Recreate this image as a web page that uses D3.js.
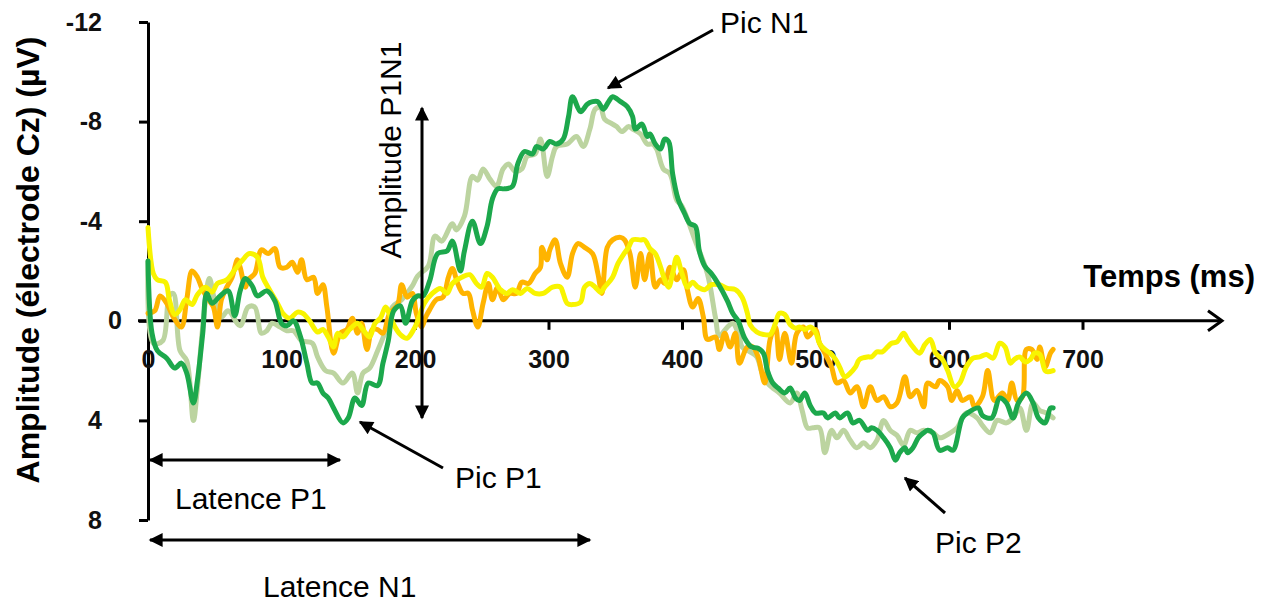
<!DOCTYPE html>
<html>
<head>
<meta charset="utf-8">
<script src="https://cdn.jsdelivr.net/npm/d3@7"></script>
<style>
  body { margin: 0; background: #fff; }
  text { font-family: "Liberation Sans", Arial, sans-serif; }
</style>
</head>
<body>
<div id="chart"></div>
<script>
// Data: [time (ms), amplitude (µV)]
var darkGreen = [[0,-2.4],[3,0.5],[7,1.2],[14,1.5],[20,1.9],[25,1.7],[29,2.1],[34,3.3],[37,2.4],[41,0.5],[44,-1.1],[48,-0.7],[54,-1.0],[60,-1.2],[65,-0.2],[69,-1.2],[73,-1.7],[78,-1.4],[82,-1.0],[89,-1.2],[95,-0.8],[100,0.1],[104,0.2],[109,0.0],[114,0.6],[119,1.7],[123,2.5],[127,2.5],[131,2.9],[135,3.1],[139,3.5],[146,4.1],[150,3.9],[155,3.1],[160,3.4],[165,2.5],[172,2.6],[176,1.7],[180,0.8],[184,-0.4],[189,-0.6],[193,0.1],[198,-0.8],[202,-1.0],[206,-1.0],[211,-1.6],[217,-2.7],[224,-2.8],[228,-3.2],[234,-2.0],[237,-2.8],[243,-4.0],[249,-3.1],[254,-3.8],[258,-4.9],[262,-5.3],[267,-5.3],[273,-5.4],[277,-6.3],[282,-6.8],[288,-6.7],[291,-7.0],[296,-6.9],[301,-7.2],[306,-7.1],[311,-7.3],[315,-8.2],[318,-9.0],[324,-8.4],[329,-8.7],[333,-8.8],[337,-8.8],[341,-8.5],[345,-8.8],[348,-9.0],[354,-8.8],[359,-8.6],[363,-8.2],[365,-7.7],[370,-7.9],[374,-7.4],[376,-7.5],[380,-7.1],[384,-6.9],[387,-7.3],[390,-7.2],[393,-5.9],[397,-4.9],[402,-4.3],[406,-3.9],[410,-3.8],[413,-2.8],[417,-2.2],[422,-1.9],[427,-1.5],[434,-0.8],[438,-0.3],[442,0.0],[447,0.7],[452,1.05],[457,1.1],[461,1.3],[464,2.0],[468,2.5],[472,2.7],[477,2.9],[481,2.7],[485,3.1],[488,3.2],[492,2.9],[496,3.4],[500,3.7],[506,3.7],[509,3.9],[515,3.7],[518,3.9],[524,3.7],[528,4.1],[533,4.0],[539,4.4],[542,4.3],[546,4.4],[551,4.7],[556,5.1],[560,5.6],[563,5.3],[567,5.1],[569,5.3],[573,5.1],[577,4.7],[581,4.5],[584,4.4],[588,4.5],[593,5.2],[599,5.1],[603,5.2],[610,3.9],[614,3.7],[622,3.5],[625,3.8],[632,3.9],[638,3.1],[643,3.3],[648,3.9],[652,3.3],[658,2.9],[663,3.3],[667,3.9],[672,4.1],[676,3.5],[678,3.5]];

var lightGreen = [[0,-2.4],[4,0.9],[11,0.8],[16,-1.0],[19,-1.1],[24,1.2],[29,1.6],[34,4.0],[37,2.7],[41,0.25],[46,-1.7],[50,-0.8],[55,-0.15],[60,-0.4],[69,0.2],[75,-0.55],[80,-0.55],[85,0.5],[89,0.4],[93,0.1],[99,0.25],[104,0.4],[109,0.4],[115,0.8],[123,0.9],[127,1.45],[133,2.0],[139,2.1],[146,2.5],[153,2.1],[157,2.9],[161,2.1],[166,1.9],[172,1.2],[178,0.4],[183,-0.55],[190,-0.85],[198,-1.4],[202,-1.8],[210,-2.2],[215,-3.4],[220,-3.2],[228,-3.9],[231,-3.65],[237,-4.2],[243,-5.8],[247,-5.65],[251,-6.1],[256,-5.7],[261,-5.4],[266,-6.1],[270,-6.3],[275,-6.0],[280,-6.1],[284,-6.6],[290,-6.7],[294,-7.3],[299,-5.8],[303,-6.6],[306,-7.0],[314,-7.1],[321,-7.4],[326,-7.0],[331,-7.7],[335,-8.5],[339,-8.55],[342,-8.1],[348,-7.9],[351,-7.8],[355,-7.6],[360,-7.8],[363,-7.7],[369,-7.5],[374,-7.1],[378,-7.1],[381,-6.9],[386,-6.1],[391,-5.9],[396,-4.85],[400,-4.6],[410,-3.2],[419,-1.9],[425,-0.15],[428,0.6],[434,0.25],[438,0.1],[443,0.65],[445,1.05],[451,1.25],[456,1.45],[460,2.1],[464,2.5],[468,2.7],[473,2.9],[481,3.3],[486,2.9],[490,3.6],[494,4.3],[498,4.3],[503,4.3],[507,5.3],[512,4.4],[516,4.7],[521,4.4],[526,4.8],[531,5.1],[536,4.9],[541,5.1],[546,4.8],[551,4.0],[556,4.4],[561,4.6],[566,5.0],[571,4.4],[576,4.5],[581,4.4],[588,4.5],[593,4.7],[601,4.5],[606,4.3],[613,3.7],[621,3.9],[625,4.2],[631,4.5],[636,4.0],[643,4.1],[648,3.9],[653,3.5],[658,4.4],[663,3.3],[668,3.6],[673,3.7],[678,3.9]];

var orange = [[0,-0.3],[5,-0.4],[9,-1.0],[14,-0.7],[19,-0.15],[25,0.25],[29,-0.85],[33,-2.0],[37,-1.75],[40,-1.35],[44,-0.95],[49,-0.55],[52,0.25],[55,-0.85],[59,-1.35],[63,-1.75],[67,-2.45],[69,-2.15],[73,-1.35],[75,-1.65],[80,-1.9],[85,-2.85],[90,-2.7],[95,-2.9],[99,-2.15],[104,-2.15],[108,-2.35],[112,-1.95],[115,-2.45],[119,-1.65],[124,-1.75],[127,-1.1],[131,-1.45],[134,-0.55],[139,1.3],[144,0.5],[149,0.35],[153,-0.1],[157,0.5],[160,0.1],[164,1.15],[168,0.35],[172,0.35],[176,0.5],[181,-0.3],[187,-0.65],[190,-1.45],[194,-0.95],[198,-1.1],[201,-0.3],[205,0.25],[208,-0.15],[211,-0.45],[216,-0.85],[221,-0.95],[225,-1.75],[228,-2.1],[232,-1.5],[236,-1.1],[240,-1.1],[243,-0.45],[247,0.25],[251,-0.7],[255,-1.5],[258,-0.85],[262,-1.35],[266,-0.85],[271,-1.1],[276,-1.1],[280,-1.55],[285,-1.5],[290,-1.9],[294,-2.15],[295,-2.95],[299,-2.45],[301,-2.85],[305,-3.25],[309,-2.3],[314,-1.75],[318,-2.7],[322,-3.1],[327,-2.95],[333,-2.7],[337,-1.9],[340,-1.1],[344,-2.95],[348,-3.25],[354,-3.35],[357,-3.25],[361,-2.7],[365,-1.35],[369,-2.7],[372,-1.65],[376,-2.7],[380,-1.35],[384,-1.65],[387,-1.5],[391,-2.15],[396,-1.65],[401,-2.05],[404,-1.25],[408,-0.55],[412,-0.9],[416,-0.15],[419,0.75],[425,0.65],[428,1.15],[432,0.5],[436,1.05],[440,0.5],[443,1.7],[449,1.05],[453,1.05],[457,1.45],[462,2.5],[466,0.75],[470,0.25],[473,1.55],[477,0.5],[482,1.7],[486,0.5],[491,0.25],[494,0.65],[500,0.35],[503,0.9],[507,1.3],[512,1.85],[516,2.5],[521,2.4],[526,2.9],[531,2.65],[536,3.45],[541,2.65],[546,3.2],[551,3.05],[556,3.45],[561,3.3],[567,2.25],[571,3.05],[576,2.8],[581,3.45],[584,2.5],[590,2.65],[593,2.4],[599,2.65],[602,3.2],[606,2.8],[610,3.2],[616,3.05],[619,3.45],[625,3.05],[629,2.0],[634,3.2],[640,2.9],[644,3.2],[647,2.5],[651,3.2],[655,3.05],[658,1.15],[662,1.15],[666,1.55],[668,1.05],[672,1.85],[676,1.3],[678,1.15]];

var yellow = [[0,-3.75],[4,-1.9],[7,-1.65],[13,-1.55],[16,-0.85],[20,-0.25],[24,-0.45],[28,-0.85],[33,-0.65],[37,-1.05],[43,-1.35],[48,-1.15],[52,-1.5],[59,-1.65],[65,-2.05],[71,-2.45],[76,-2.7],[82,-2.55],[86,-1.75],[91,-1.25],[97,-0.7],[101,-0.3],[106,-0.1],[112,-0.35],[116,-0.3],[121,0.0],[127,0.45],[131,0.35],[135,0.65],[139,1.05],[142,0.5],[146,0.65],[151,0.35],[157,0.1],[161,0.35],[166,0.65],[170,0.1],[174,-0.1],[178,-0.55],[181,-0.25],[185,0.25],[189,0.55],[194,0.7],[199,0.35],[202,0.0],[207,-0.7],[213,-1.1],[219,-1.3],[224,-1.1],[228,-1.5],[235,-1.75],[241,-1.85],[246,-1.5],[250,-1.35],[254,-1.9],[258,-1.75],[264,-1.25],[269,-1.1],[273,-1.25],[279,-1.1],[284,-1.3],[290,-1.1],[296,-1.1],[303,-1.35],[309,-1.35],[311,-1.1],[314,-0.7],[318,-0.65],[324,-0.75],[327,-1.35],[331,-1.5],[335,-1.35],[339,-1.15],[342,-1.35],[348,-1.75],[352,-2.3],[356,-2.65],[360,-2.95],[363,-3.25],[369,-3.25],[372,-3.25],[376,-2.9],[380,-2.7],[384,-2.15],[387,-1.65],[390,-1.35],[393,-1.9],[396,-2.55],[400,-1.9],[404,-1.35],[408,-1.55],[412,-1.35],[417,-1.25],[422,-1.45],[428,-1.45],[434,-1.3],[440,-1.25],[445,-0.95],[449,-0.3],[451,0.15],[456,0.45],[461,0.55],[466,0.55],[470,0.1],[473,-0.3],[477,-0.25],[481,0.15],[485,0.3],[488,0.25],[492,0.35],[496,0.25],[500,0.45],[503,0.9],[507,1.15],[511,1.3],[515,1.55],[518,1.85],[522,2.25],[526,2.1],[530,1.85],[533,1.55],[539,1.45],[542,1.45],[546,1.25],[550,1.25],[554,1.05],[557,0.9],[561,0.85],[566,0.5],[569,0.75],[573,1.05],[578,1.3],[582,0.95],[586,0.75],[590,1.3],[595,1.55],[599,2.0],[604,2.65],[608,2.5],[613,1.85],[618,1.5],[623,1.45],[628,1.35],[633,1.5],[638,0.9],[642,1.05],[646,1.7],[649,1.55],[653,1.45],[657,1.65],[661,1.55],[664,1.3],[668,1.35],[672,2.0],[674,2.05],[678,2.0]];

var xTicks = [0, 100, 200, 300, 400, 500, 600, 700];
var yTicks = [-12, -8, -4, 0, 4, 8];

var svgWidth = 1271;
var svgHeight = 605;

var svg = d3.select("#chart")
    .append("svg")
    .attr("width", svgWidth)
    .attr("height", svgHeight);

// scales (y is inverted: negative up, as in ERP plots)
var x = d3.scaleLinear().domain([0, 700]).range([148, 1082.5]);
var y = d3.scaleLinear().domain([-12, 8]).range([22, 520]);

// arrow heads
var defs = svg.append("defs");
defs.append("marker")
    .attr("id", "head")
    .attr("viewBox", "0 0 10 10")
    .attr("refX", 9)
    .attr("refY", 5)
    .attr("markerWidth", 15)
    .attr("markerHeight", 14)
    .attr("markerUnits", "userSpaceOnUse")
    .attr("orient", "auto-start-reverse")
    .append("path")
    .attr("d", "M0,0L10,5L0,10Z")
    .attr("fill", "#000");

// y axis
var yAxis = svg.append("g")
    .attr("transform", "translate(148,0)")
    .call(d3.axisLeft(y).tickValues(yTicks).tickFormat(d => String(d))
        .tickSize(9).tickSizeOuter(0).tickPadding(37));
yAxis.select(".domain").attr("stroke", "#000").attr("stroke-width", 3);
yAxis.selectAll(".tick line").attr("stroke", "#000").attr("stroke-width", 3);
yAxis.selectAll(".tick text")
    .attr("font-size", 25)
    .attr("font-weight", "bold")
    .attr("font-family", "Liberation Sans, Arial, sans-serif")
    .attr("fill", "#111");
yAxis.selectAll(".tick").filter(d => d === 0).select("text").attr("x", -26);

// x axis through 0
var xAxis = svg.append("g")
    .attr("transform", `translate(0,${y(0)})`)
    .call(d3.axisBottom(x).tickValues(xTicks).tickSize(9).tickSizeOuter(0).tickPadding(20));
xAxis.select(".domain").remove();
xAxis.selectAll(".tick line").attr("stroke", "#000").attr("stroke-width", 3);
xAxis.selectAll(".tick text")
    .attr("font-size", 25)
    .attr("font-weight", "bold")
    .attr("font-family", "Liberation Sans, Arial, sans-serif")
    .attr("fill", "#111");

svg.append("line")
    .attr("x1", 138).attr("x2", 1222)
    .attr("y1", y(0)).attr("y2", y(0))
    .attr("stroke", "#000").attr("stroke-width", 3);
svg.append("path")
    .attr("d", `M1208,${y(0) - 10}L1222,${y(0)}L1208,${y(0) + 10}`)
    .attr("fill", "none").attr("stroke", "#000").attr("stroke-width", 3);

// axis titles
svg.append("text")
    .attr("transform", "translate(39,260) rotate(-90)")
    .attr("text-anchor", "middle")
    .attr("font-size", 32)
    .attr("font-weight", "bold")
    .text("Amplitude (électrode Cz) (µV)");

svg.append("text")
    .attr("x", 1255).attr("y", 287)
    .attr("text-anchor", "end")
    .attr("font-size", 31)
    .attr("font-weight", "bold")
    .text("Temps (ms)");

// curves
var line = d3.line()
    .x(d => x(d[0]))
    .y(d => y(d[1]))
    .curve(d3.curveCatmullRom.alpha(0.5));

var series = [
    {data: lightGreen, color: "#bcd4a0"},
    {data: orange, color: "#ffb400"},
    {data: yellow, color: "#f8f400"},
    {data: darkGreen, color: "#1ca84c"}
];

svg.selectAll(".erp")
    .data(series)
    .enter()
    .append("path")
    .attr("class", "erp")
    .attr("d", d => line(d.data))
    .attr("fill", "none")
    .attr("stroke", d => d.color)
    .attr("stroke-width", 5)
    .attr("stroke-linejoin", "round")
    .attr("stroke-linecap", "round");

// annotations
function arrow(x1, y1, x2, y2, both) {
    var a = svg.append("line")
        .attr("x1", x1).attr("y1", y1)
        .attr("x2", x2).attr("y2", y2)
        .attr("stroke", "#000").attr("stroke-width", 3)
        .attr("marker-end", "url(#head)");
    if (both) a.attr("marker-start", "url(#head)");
}

function label(txt, xPos, yPos) {
    svg.append("text")
        .attr("x", xPos).attr("y", yPos)
        .attr("font-size", 30)
        .attr("fill", "#000")
        .text(txt);
}

// amplitude P1N1
arrow(422, 418, 422, 108, true);
svg.append("text")
    .attr("transform", "translate(401,150) rotate(-90)")
    .attr("text-anchor", "middle")
    .attr("font-size", 30)
    .text("Amplitude P1N1");

// latencies
arrow(150, 460, 340, 460, true);
label("Latence P1", 175, 509);
arrow(150, 540, 590, 540, true);
label("Latence N1", 263, 597);

// peaks
arrow(713, 30, 608, 88, false);
label("Pic N1", 720, 33);
arrow(443, 468, 360, 422, false);
label("Pic P1", 455, 488);
arrow(945, 513, 905, 478, false);
label("Pic P2", 935, 553);
</script>
</body>
</html>
